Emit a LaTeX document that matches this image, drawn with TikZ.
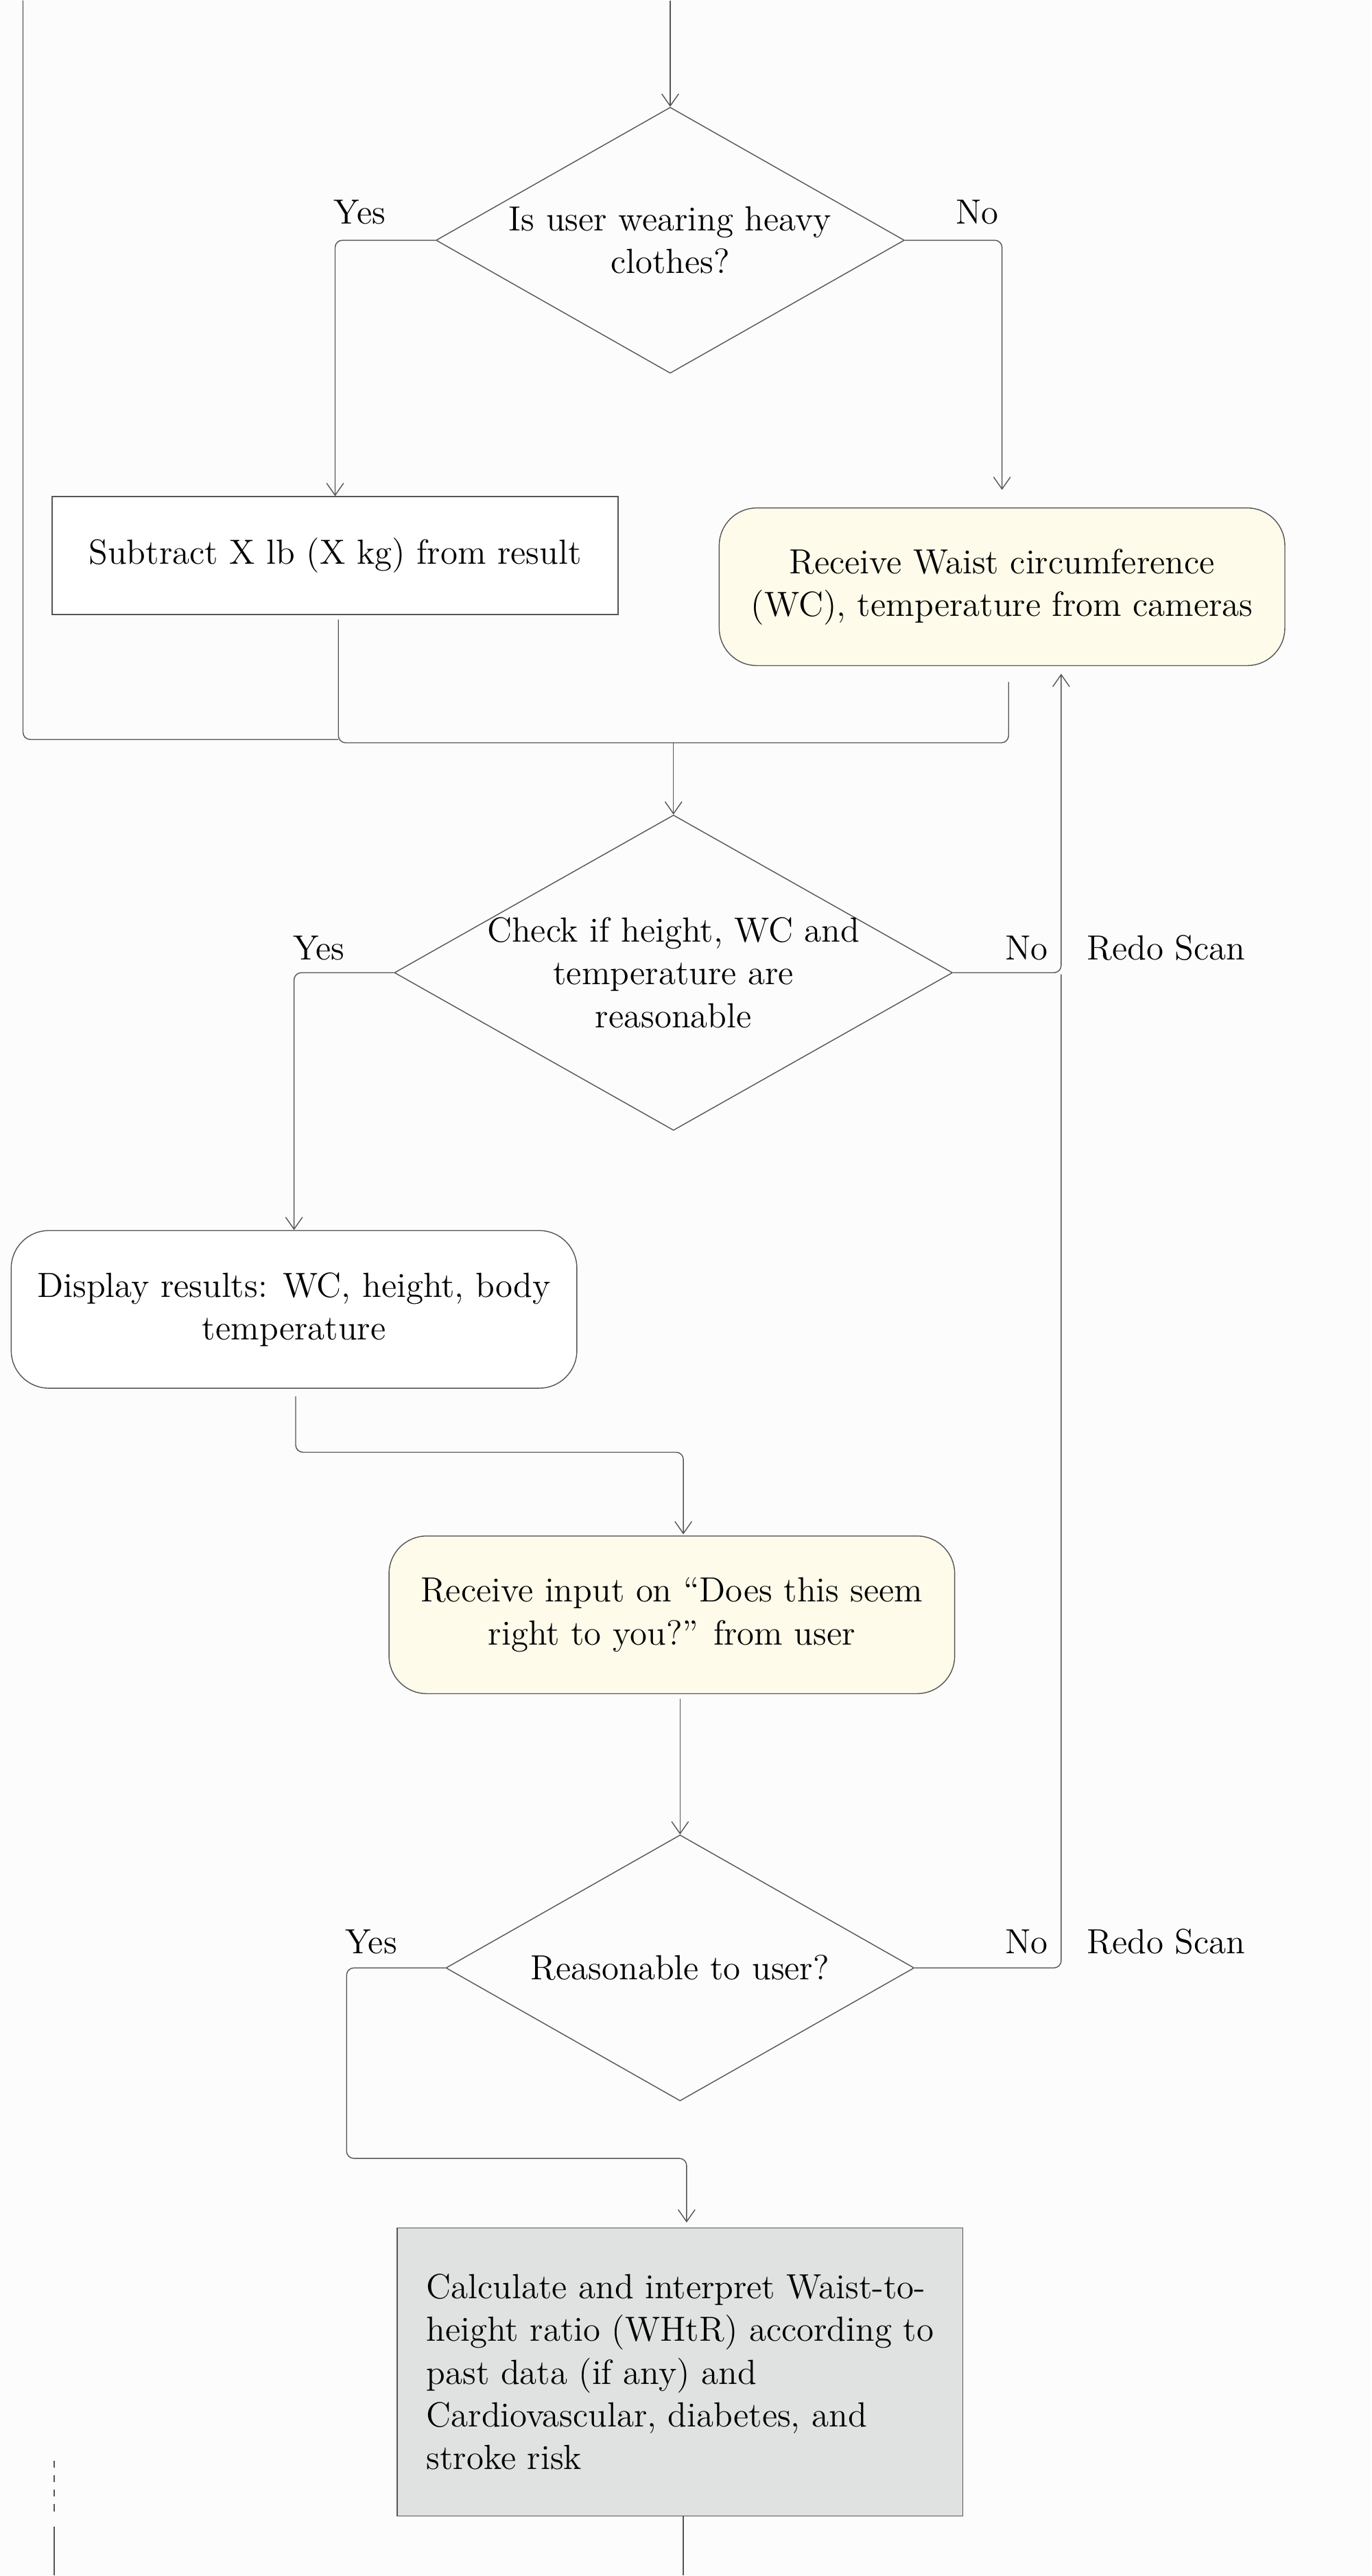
\documentclass[tikz,border=0pt]{standalone}
\usepackage{tikz}
\usetikzlibrary{shapes.geometric,arrows.meta}
\definecolor{bgcol}{HTML}{FCFCFC}
\definecolor{linecol}{HTML}{555555}
\definecolor{yelcol}{HTML}{FEFBEA}
\definecolor{graycol}{HTML}{DFE2E1}
\begin{document}
\begin{tikzpicture}[x=0.02395cm, y=-0.02395cm, font=\fontsize{14.5}{17.7}\selectfont]
    \tikzstyle{box} = [rectangle, draw=linecol, fill=white, align=center,
                                      minimum width=8.25cm, minimum height=2.3cm]
    \tikzstyle{roundbox} = [box, rounded corners=0.55cm]
    \tikzstyle{choice} = [diamond, draw=linecol, fill=bgcol, inner sep=0pt]
    \tikzstyle{link} = [draw=linecol, rounded corners=3pt, -{Straight Barb[length=5pt,width=7pt]}]
    \tikzstyle{plain} = [draw=linecol, rounded corners=3pt]
    \fill[bgcol] (0,0) rectangle (835,1568);
  % first question
  \coordinate (top) at (408,0);
  \node[choice, minimum width=6.83cm, minimum height=3.88cm](heavy) at (408,146){};
  \node[align=center] at (heavy){Is user wearing heavy\\clothes?};
  \node[box, minimum height=1.72cm](subtract) at (204,338){Subtract X lb (X kg) from result};
  \node[roundbox, fill=yelcol](wc) at (610,357){Receive Waist circumference\\(WC), temperature from cameras};
  \node at (219,129){Yes};
  \node at (595,129){No};
  \draw[link] (top) -- (heavy.north);
  \draw[link] (heavy.west) -| (subtract.north);
  \draw[link] (heavy.east) -| (610,298);
  % merge
  \coordinate (topleft) at (14,0);
  \coordinate (merge) at (410,452);
  \draw[plain] (topleft) |- (206,450);
  \draw[plain] (206,377) |- (merge) -| (614,415);
  % second question
  \node[choice, minimum width=8.14cm, minimum height=4.6cm](check) at (410,592){};
  \node[align=center] at (check){Check if height, WC and\\temperature are\\reasonable};
  \node[roundbox](display) at (179,797){Display results: WC, height, body\\temperature};
  \node at (194,577){Yes};
  \node at (625,577){No};
  \node at (710,577){Redo Scan};
  \coordinate (redo) at (646,410);
  \draw[link] (merge) -- (check.north);
  \draw[link] (check.west) -| (display.north);
  \draw[link] (check.east) -| (redo);
  % user input
  \node[roundbox, fill=yelcol](input) at (409,983){Receive input on ``Does this seem\\right to you?'' from user};
  \draw[link] (180,850) |- (416,884) -- (416,934);
  % third question
  \node[choice, minimum width=6.83cm, minimum height=3.88cm](sure) at (414,1198){};
  \node at (sure){Reasonable to user?};
  \node at (226,1182){Yes};
  \node at (625,1182){No};
  \node at (710,1182){Redo Scan};
  \draw[link] (414,1034) -- (sure.north);
  \draw[plain] (sure.east) -| (646,593);
  % calculation
  \node[rectangle, draw=linecol, fill=graycol, align=left,
        minimum width=8.25cm, minimum height=4.2cm](calc) at (414,1444)
        {Calculate and interpret Waist-to-\\height ratio (WHtR) according to\\past data (if any) and\\Cardiovascular, diabetes, and\\stroke risk};
  \draw[link] (sure.west) -| (211,1314) -| (418,1353);
  \coordinate (bottom) at (416,1568);
  \draw[plain] (416,1532) -- (bottom);
  % side line
  \coordinate (side) at (33,1498);
  \draw[linecol, dashed] (side) -- (33,1530);
  \draw[linecol] (33,1538) -- (33,1568);
\end{tikzpicture}
\end{document}
